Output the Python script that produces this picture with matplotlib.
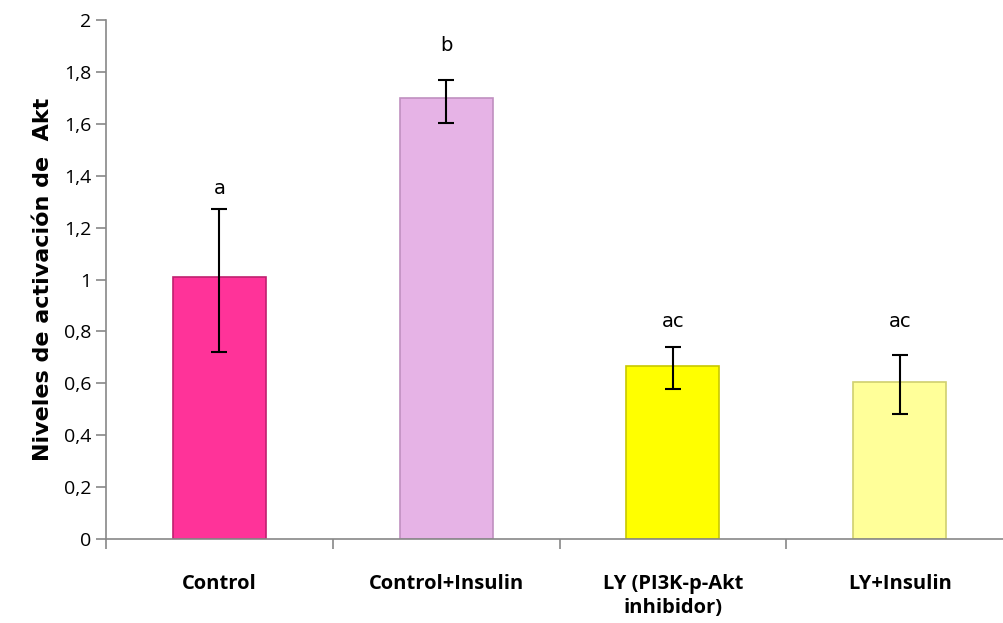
import numpy as np
import matplotlib.pyplot as plt
from matplotlib.ticker import FuncFormatter, FixedLocator

categorias = ["Control", "Control+Insulin", "LY (PI3K-p-Akt\ninhibidor)", "LY+Insulin"]
valores = [1.01, 1.70, 0.665, 0.605]
error_sup = [0.26, 0.07, 0.075, 0.105]
error_inf = [0.29, 0.095, 0.085, 0.125]
letras = ["a", "b", "ac", "ac"]
letras_y = [1.35, 1.90, 0.84, 0.84]
colores = ["#FF3399", "#E6B3E6", "#FFFF00", "#FFFF99"]
bordes = ["#C02070", "#C090C0", "#C8C800", "#D0D070"]

fig = plt.figure(figsize=(10.04, 6.23), dpi=100)
ax = fig.add_axes([0.1056, 0.1348, 0.8944, 0.8331])

x = np.arange(len(categorias))
ax.bar(x, valores, width=0.41, color=colores, edgecolor=bordes, linewidth=1.2, zorder=2)
ax.errorbar(x, valores, yerr=[error_inf, error_sup], fmt="none", ecolor="black",
            elinewidth=1.5, capsize=6, capthick=1.5, zorder=3)

# letras de significancia
for xi, yl, l in zip(x, letras_y, letras):
    ax.text(xi, yl, l, ha="center", va="center", fontsize=14, family="DejaVu Sans")

ax.set_ylim(0, 2)
ax.set_xlim(-0.5, 3.46)
ax.set_yticks(np.arange(0, 2.01, 0.2))
ax.yaxis.set_major_formatter(FuncFormatter(lambda v, p: ("%g" % round(v, 1)).replace(".", ",")))
ax.set_xticks(x)
ax.set_xticklabels(categorias, fontsize=14.5, fontweight="bold", family="Open Sans",
                   linespacing=1.3)
ax.xaxis.set_minor_locator(FixedLocator([-0.5, 0.5, 1.5, 2.5, 3.5]))
ax.tick_params(axis="x", which="major", length=0, pad=25)
ax.tick_params(axis="x", which="minor", length=7, color="#888888", width=1.2)
ax.tick_params(axis="y", length=7, color="#888888", width=1.2, labelsize=14)
for lab in ax.get_yticklabels():
    lab.set_family("Open Sans")

for s in ["top", "right"]:
    ax.spines[s].set_visible(False)
for s in ["left", "bottom"]:
    ax.spines[s].set_color("#888888")
    ax.spines[s].set_linewidth(1.2)

ax.set_ylabel("Niveles de activación de  Akt", fontsize=16, fontweight="bold",
              family="DejaVu Sans", labelpad=8)

fig.savefig("out.png", dpi=100)
